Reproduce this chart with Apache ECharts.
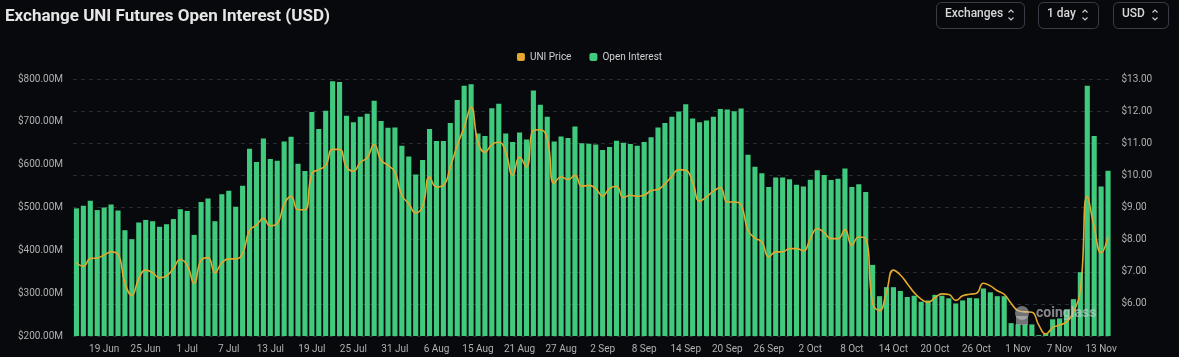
<!DOCTYPE html>
<html>
<head>
<meta charset="utf-8">
<script src="https://cdn.jsdelivr.net/npm/echarts@6/dist/echarts.min.js"></script>
<style>
  html, body { margin: 0; padding: 0; background: #08090d; }
  #chart { width: 1179px; height: 357px; }
</style>
</head>
<body>
<div id="chart"></div>
<script>
// Date ranges making up the category axis (3 days in mid-August are absent in the source)
const dateRanges = [['Jun', 15, 30], ['Jul', 1, 31], ['Aug', 1, 11], ['Aug', 15, 31], ['Sep', 1, 30], ['Oct', 1, 31], ['Nov', 1, 14]];
const categories = [];
dateRanges.forEach(function (r) { for (let d = r[1]; d <= r[2]; d++) categories.push(d + ' ' + r[0]); });

// Open interest, millions of USD
const openInterest = [
  498, 504, 516, 494, 500, 507, 493, 447, 426, 465,
  471, 468, 455, 461, 473, 496, 492, 436, 513, 521,
  468, 531, 539, 502, 551, 637, 606, 661, 613, 609,
  654, 665, 602, 585, 723, 683, 726, 795, 793, 714,
  699, 712, 719, 749, 702, 686, 687, 644, 619, 577,
  611, 683, 655, 655, 697, 751, 784, 788, 673, 667,
  732, 742, 673, 653, 675, 659, 773, 740, 712, 654,
  666, 662, 689, 650, 649, 647, 634, 641, 656, 651,
  648, 644, 653, 664, 687, 697, 712, 724, 741, 708,
  699, 703, 712, 730, 729, 725, 731, 623, 595, 580,
  548, 570, 570, 566, 553, 549, 565, 587, 576, 564,
  567, 591, 548, 554, 536, 366, 293, 314, 314, 305,
  291, 294, 280, 283, 296, 294, 288, 276, 283, 289,
  288, 311, 302, 293, 293, 230, 227, 227, 227, 202,
  206, 239, 241, 261, 286, 349, 784, 667, 549, 586
];

// UNI price, USD
const uniPrice = [
  7.28, 7.17, 7.41, 7.43, 7.52, 7.62, 7.55, 6.64, 6.27, 6.79,
  7.05, 6.97, 6.81, 6.87, 7.10, 7.38, 7.20, 6.64, 7.36, 7.44,
  6.97, 7.28, 7.40, 7.40, 7.57, 8.29, 8.45, 8.66, 8.43, 8.50,
  9.10, 9.35, 8.93, 8.93, 10.05, 10.18, 10.31, 10.81, 10.81, 10.26,
  10.13, 10.41, 10.55, 10.96, 10.47, 10.31, 10.10, 9.38, 9.12, 8.83,
  9.04, 9.95, 9.64, 9.69, 10.26, 10.93, 11.50, 12.12, 11.03, 10.72,
  10.96, 11.03, 10.72, 10.00, 10.57, 10.26, 11.40, 11.42, 11.14, 9.76,
  9.95, 9.87, 10.00, 9.66, 9.69, 9.59, 9.36, 9.59, 9.66, 9.31,
  9.38, 9.35, 9.38, 9.53, 9.56, 9.74, 9.97, 10.18, 10.16, 9.79,
  9.20, 9.33, 9.51, 9.62, 9.17, 9.17, 9.07, 8.29, 8.05, 7.93,
  7.46, 7.62, 7.62, 7.72, 7.72, 7.65, 8.03, 8.34, 8.22, 8.03,
  8.03, 8.31, 7.83, 8.08, 8.03, 6.02, 5.79, 6.38, 7.05, 6.90,
  6.63, 6.35, 6.15, 6.05, 6.19, 6.31, 6.29, 6.11, 6.25, 6.30,
  6.33, 6.64, 6.56, 6.41, 6.30, 6.02, 5.79, 5.75, 5.74, 5.34,
  5.06, 5.26, 5.34, 5.44, 5.75, 6.40, 9.35, 8.39, 7.59, 8.08
];

const oiAxis = { min: 200, max: 800, interval: 100 };
const priceAxis = { min: 5, max: 13, interval: 1 };
const buttons = [
  { label: 'Exchanges', x: 936, w: 88 },
  { label: '1 day', x: 1038, w: 60 },
  { label: 'USD', x: 1113, w: 55 }
];

const chart = echarts.init(document.getElementById('chart'), null, { renderer: 'canvas' });

const FONT = 'Roboto, "Noto Sans", sans-serif';
const graphics = [];
buttons.forEach(function (b) {
  graphics.push({
    type: 'rect', left: b.x, top: 2,
    shape: { width: b.w, height: 26, r: 5 },
    style: { fill: 'rgba(0,0,0,0)', stroke: '#3a3d45', lineWidth: 1 }
  });
  graphics.push({
    type: 'text', left: b.x + 9, top: 8,
    style: { text: b.label, fill: '#d8d8d8', font: '500 12px ' + FONT }
  });
  const cx = b.x + b.w - 13;
  graphics.push({ type: 'polyline', shape: { points: [[cx - 2.5, 12.5], [cx, 10], [cx + 2.5, 12.5]] }, style: { stroke: '#c8c8c8', lineWidth: 1.2, fill: null } });
  graphics.push({ type: 'polyline', shape: { points: [[cx - 2.5, 17.5], [cx, 20], [cx + 2.5, 17.5]] }, style: { stroke: '#c8c8c8', lineWidth: 1.2, fill: null } });
});
// watermark
graphics.push({ type: 'circle', shape: { cx: 1022, cy: 313, r: 7 }, style: { fill: 'rgba(200,200,200,0.55)' }, z: 100 });
graphics.push({ type: 'rect', shape: { x: 1016, y: 316, width: 12, height: 9 }, style: { fill: 'rgba(200,200,200,0.55)' }, z: 100 });
graphics.push({
  type: 'text', left: 1036, top: 306, z: 100,
  style: { text: 'coinglass', fill: 'rgba(205,205,205,0.65)', font: 'bold 14px ' + FONT }
});

chart.setOption({
  backgroundColor: '#08090d',
  animation: false,
  title: {
    text: 'Exchange UNI Futures Open Interest (USD)',
    left: 0, top: 3,
    textStyle: { color: '#e6e6e6', fontSize: 17, fontWeight: 'bold', fontFamily: FONT }
  },
  legend: {
    top: 47, left: 'center',
    itemWidth: 8, itemHeight: 8, itemGap: 18,
    textStyle: { color: '#cfcfcf', fontSize: 10, fontFamily: FONT },
    data: [
      { name: 'UNI Price', icon: 'roundRect', itemStyle: { color: '#e3a82d' } },
      { name: 'Open Interest', icon: 'roundRect', itemStyle: { color: '#3fca7d' } }
    ]
  },
  grid: { left: 73, right: 67.5, top: 79, bottom: 21, containLabel: false },
  xAxis: {
    type: 'category',
    data: categories,
    boundaryGap: true,
    axisLine: { show: false },
    axisTick: { show: false },
    axisLabel: {
      color: '#b0b0b0', fontSize: 10, fontFamily: FONT, margin: 8,
      interval: function (idx) { return (idx - 4) % 6 === 0; }
    },
    splitLine: { show: false }
  },
  yAxis: [
    {
      type: 'value', position: 'left',
      min: oiAxis.min, max: oiAxis.max, interval: oiAxis.interval,
      axisLine: { show: false }, axisTick: { show: false },
      axisLabel: { color: '#b0b0b0', fontSize: 10, fontFamily: FONT, margin: 10,
        formatter: function (v) { return '$' + v.toFixed(2) + 'M'; } },
      splitLine: { show: false }
    },
    {
      type: 'value', position: 'right',
      min: priceAxis.min, max: priceAxis.max, interval: priceAxis.interval,
      axisLine: { show: false }, axisTick: { show: false },
      axisLabel: { color: '#b0b0b0', fontSize: 10, fontFamily: FONT, margin: 10, showMinLabel: false,
        formatter: function (v) { return '$' + v.toFixed(2); } },
      splitLine: { show: true, lineStyle: { color: '#2a2d34', type: [4, 4], width: 1 } }
    }
  ],
  series: [
    {
      name: 'Open Interest', type: 'bar', yAxisIndex: 0,
      data: openInterest,
      barCategoryGap: '26%',
      itemStyle: { color: '#3fca7d' },
      z: 2
    },
    {
      name: 'UNI Price', type: 'line', yAxisIndex: 1,
      data: uniPrice,
      smooth: 0.5, symbol: 'none',
      lineStyle: { color: '#e3a82d', width: 1.6 },
      itemStyle: { color: '#e3a82d' },
      z: 3
    }
  ],
  graphic: graphics
});
</script>
</body>
</html>
